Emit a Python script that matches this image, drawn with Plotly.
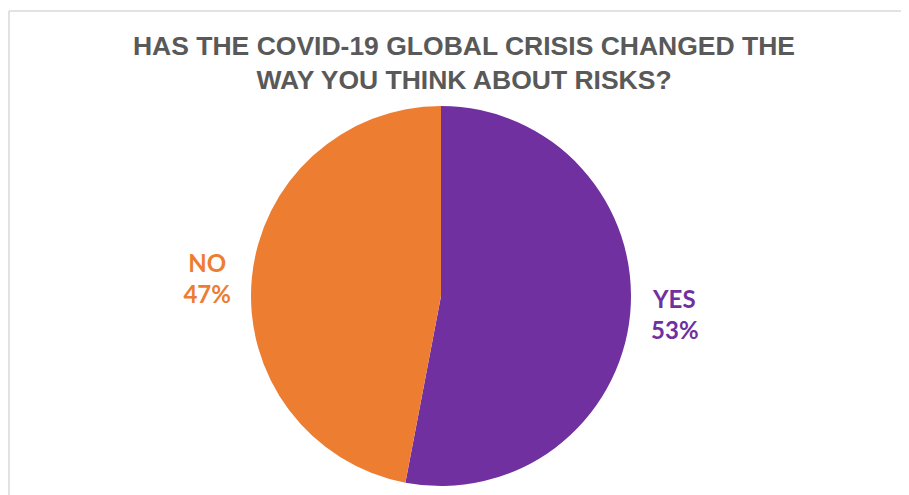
import plotly.graph_objects as go

labels = ["YES", "NO"]
values = [53, 47]
colors = ["#7030A0", "#ED7D31"]
title_text = "HAS THE COVID-19 GLOBAL CRISIS CHANGED THE<br>WAY YOU THINK ABOUT RISKS?"

W, H = 909, 495
off = 8  # page body offset
cx, cy, r = 441 - off, 296 - off, 190

nb = "\u00a0"
templates = [nb + "%{label}<br>" + nb + "%{percent:.0%}",
             "%{label}" + nb + "<br>%{percent:.0%}" + nb]

fig = go.Figure(go.Pie(
    labels=labels,
    values=values,
    marker=dict(colors=colors, line=dict(width=0)),
    sort=False,
    direction="clockwise",
    rotation=0,
    textposition="outside",
    texttemplate=templates,
    textfont=dict(family="Lato", size=24, color=colors, weight="bold"),
    showlegend=False,
    hoverinfo="label+percent",
    domain=dict(x=[(cx - 320) / W, (cx + 320) / W],
                y=[(H - cy - r) / H, (H - cy + r) / H]),
))

bx, by = 1 / W, 1 - 3 / H
fig.update_layout(
    width=W, height=H,
    margin=dict(l=0, r=0, t=0, b=0, autoexpand=False),
    paper_bgcolor="white",
    plot_bgcolor="white",
    title=dict(text=title_text, x=(464 - off) / W, xanchor="center",
               y=1 - 47 / H, yanchor="top",
               font=dict(family="Liberation Sans, Arial", size=26.5, color="#595959", weight="bold")),
    shapes=[
        dict(type="line", xref="paper", yref="paper", x0=bx, x1=bx, y0=0, y1=by,
             line=dict(color="#D9D9D9", width=1.5), layer="below"),
        dict(type="line", xref="paper", yref="paper", x0=bx, x1=1, y0=by, y1=by,
             line=dict(color="#D9D9D9", width=1.5), layer="below"),
    ],
)

fig.write_html("out.html")
